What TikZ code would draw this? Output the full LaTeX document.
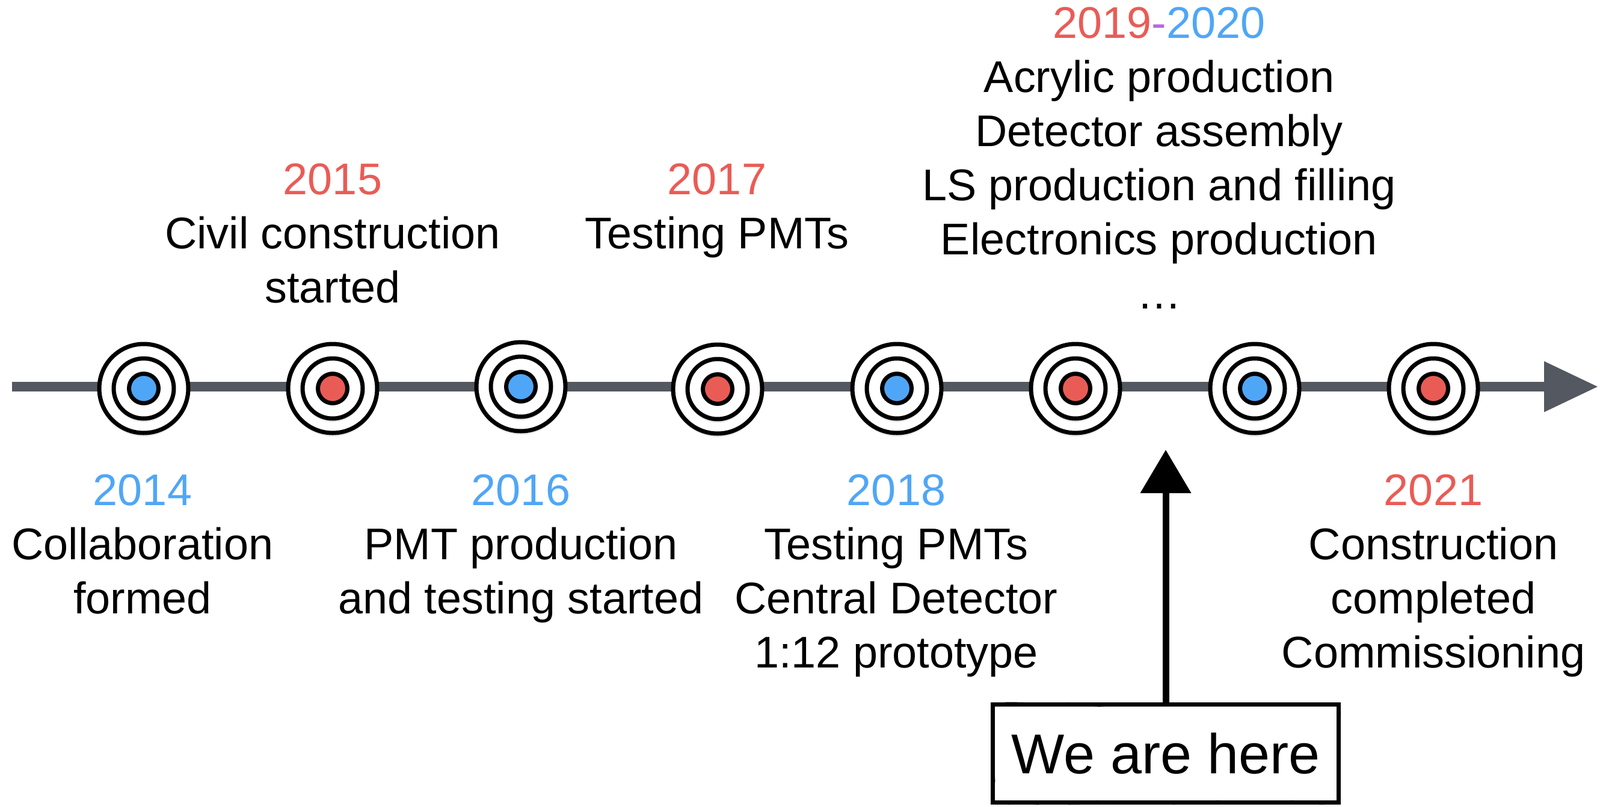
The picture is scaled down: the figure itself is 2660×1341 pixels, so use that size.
\documentclass[tikz,border=0pt]{standalone}
\usepackage{fontspec}
\setmainfont{Liberation Sans}
\usetikzlibrary{arrows.meta,shadows,decorations.pathmorphing}
\definecolor{tlblue}{RGB}{80,166,246}
\definecolor{tlred}{RGB}{233,92,86}
\definecolor{tlpurple}{RGB}{184,104,226}
\definecolor{tlgray}{RGB}{83,88,97}
\tikzset{
	ring/.style={circle, draw=black, line width=0.7mm, fill=white, inner sep=0pt},
	ringshadow/.style={drop shadow={opacity=0.18, shadow xshift=0mm, shadow yshift=-0.6mm}},
	milestone/.style={anchor=north, align=center, inner sep=0pt},
	sketchbox/.style={draw=black, line width=0.7mm, fill=white, inner sep=0pt, minimum width=57.5mm, minimum height=16.3mm, font=\fontsize{26.6}{32}\selectfont,
		postaction={draw, line width=0.3mm, decorate, decoration={random steps, segment length=2.5mm, amplitude=0.25mm}}}
}

\begin{document}
\begin{tikzpicture}[x=0.1mm, y=-0.1mm, every node/.style={font=\fontsize{21}{25.6}\selectfont}]
	\useasboundingbox (0,0) rectangle (2660,1341);
	\coordinate (tlstart) at (20,643);
	\coordinate (tlend) at (2657,643);
	\draw[tlgray, line width=1.6mm, -{Triangle[length=9mm, width=8mm]}] (tlstart) -- (tlend);
	\foreach \x/\y/\c [count=\i] in {239/646/tlblue, 553/646/tlred, 866/643/tlblue, 1193/647/tlred, 1491/646/tlblue, 1788/646/tlred, 2086/646/tlblue, 2383/646/tlred} {
		\node[ring, ringshadow, minimum size=14.8mm] (ring\i) at (\x,\y) {};
		\node[ring, ringshadow, minimum size=10mm] (mid\i) at (ring\i) {};
		\node[ring, fill=\c, minimum size=4.9mm] (dot\i) at (ring\i) {};
	}
	\foreach \x/\y/\l [count=\i] in {237/788/{\textcolor{tlblue}{2014}\\Collaboration\\formed}, 553/271/{\textcolor{tlred}{2015}\\Civil construction\\started}, 866/788/{\textcolor{tlblue}{2016}\\PMT production\\and testing started}, 1192/271/{\textcolor{tlred}{2017}\\Testing PMTs}, 1490/788/{\textcolor{tlblue}{2018}\\Testing PMTs\\Central Detector\\1:12 prototype}, 1927/11/{\textcolor{tlred}{2019}\textcolor{tlpurple}{-}\textcolor{tlblue}{2020}\\Acrylic production\\Detector assembly\\LS production and filling\\Electronics production\\\dots}, 2383/788/{\textcolor{tlred}{2021}\\Construction\\completed\\Commissioning}} {\node[milestone] (lab\i) at (\x,\y) {\l};}
	\coordinate (herept) at (1938,748);
	\node[sketchbox] (here) at (1938,1253) {We are here};
	\draw[line width=1.1mm, -{Triangle[length=7.2mm, width=8.2mm]}] (here) -- (herept);
\end{tikzpicture}
\end{document}
